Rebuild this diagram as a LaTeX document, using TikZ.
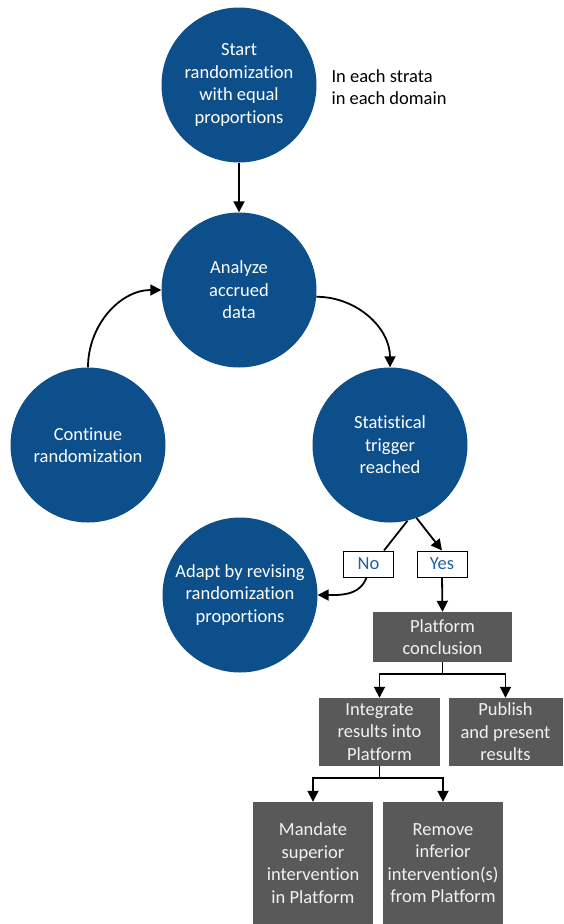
\documentclass[tikz,border=0pt]{standalone}
\usepackage{fontspec}
\setmainfont{Carlito}[Ligatures={NoCommon,NoContextual},RawFeature={-liga;-clig;-dlig}]
\usetikzlibrary{arrows.meta}
\definecolor{cblue}{HTML}{0D4F8B}
\definecolor{bgray}{HTML}{595959}
\definecolor{ltext}{HTML}{F2F2F2}
\definecolor{ynblue}{HTML}{1F5FA0}
\begin{document}
\begin{tikzpicture}[x=1pt,y=1pt,
 txt/.style={font=\fontsize{18.5}{22.5}\selectfont},
 circ/.style={txt, circle, fill=cblue, minimum size=155pt, inner sep=0pt, text=white, align=center},
 gbox/.style={txt, rectangle, fill=bgray, inner sep=0pt, text=ltext, align=center},
 yn/.style={txt, rectangle, draw=black, line width=1pt, fill=white, text=ynblue, minimum width=50pt, minimum height=26pt, inner sep=0pt},
 arr/.style={line width=1.8pt, -{Triangle[width=11pt,length=11pt]}},
 ln/.style={line width=1.8pt}]
\useasboundingbox (0,0) rectangle (563,-924);
\node[circ] (start) at (239,-85) {Start\\randomization\\with equal\\proportions};
\node[txt, align=left, anchor=west] (note) at (328,-87) {In each strata\\in each domain};
\node[circ] (analyze) at (239,-290) {Analyze\\accrued\\data};
\node[circ] (stat) at (390,-445) {Statistical\\trigger\\reached};
\node[circ] (cont) at (88,-445) {Continue\\randomization};
\node[circ] (adapt) at (240,-595) {Adapt by revising\\randomization\\proportions};
\node[yn] (no) at (368.5,-564) {No};
\node[yn] (yes) at (442,-564) {Yes};
\node[gbox, minimum width=139pt, minimum height=50pt] (plat) at (442.5,-637) {Platform\\conclusion};
\node[gbox, minimum width=121pt, minimum height=68pt] (integ) at (379.5,-732) {Integrate\\results into\\Platform};
\node[gbox, minimum width=114pt, minimum height=68pt] (publ) at (505.5,-732) {Publish\\and present\\results};
\node[gbox, minimum width=120pt, minimum height=122pt] (mand) at (313,-863) {Mandate\\superior\\intervention\\in Platform};
\node[gbox, minimum width=120pt, minimum height=122pt] (remv) at (443,-863) {Remove\\inferior\\intervention(s)\\from Platform};
\draw[arr] (start.south) -- (analyze.north);
\draw[arr] (analyze.-5) to[out=0,in=90] (stat.north);
\draw[arr] (cont.north) to[out=90,in=180] (analyze.west);
\draw[ln] (stat.-77) -- (no.41);
\draw[arr] ([xshift=-2pt]no.south) to[out=-110,in=0] (adapt.east);
\draw[arr] (stat.-70) -- (yes.north);
\draw[arr] (yes.south) -- (plat.north);
\coordinate (pj) at (442.5,-674);
\draw[ln] (plat.south) -- (pj);
\draw[arr] (pj) -| (integ.north);
\draw[arr] (pj) -| (publ.north);
\coordinate (ij) at (379.5,-778);
\draw[ln] (integ.south) -- (ij);
\draw[arr] (ij) -| (mand.north);
\draw[arr] (ij) -| (remv.north);
\end{tikzpicture}
\end{document}
